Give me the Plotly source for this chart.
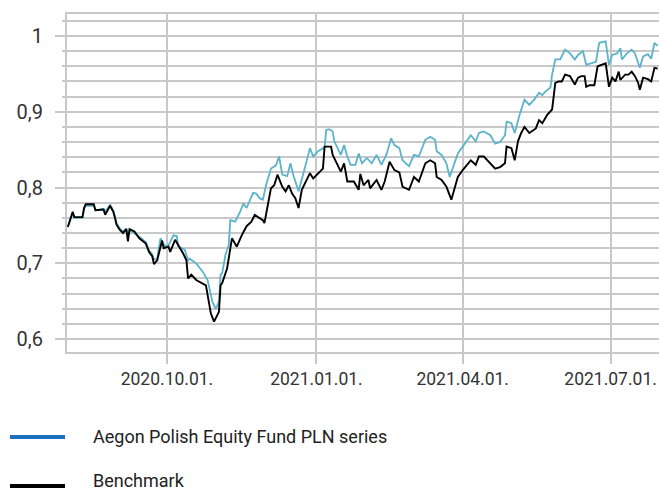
import plotly.graph_objects as go

fund_dates = [
    "2020-08-01", "2020-08-04", "2020-08-05", "2020-08-10", "2020-08-11", "2020-08-12", "2020-08-17",
    "2020-08-18", "2020-08-23", "2020-08-24", "2020-08-27", "2020-08-29", "2020-08-30", "2020-08-31",
    "2020-09-02", "2020-09-04", "2020-09-06", "2020-09-07", "2020-09-08", "2020-09-11", "2020-09-14",
    "2020-09-18", "2020-09-20", "2020-09-22", "2020-09-23", "2020-09-25", "2020-09-27", "2020-09-30",
    "2020-10-02", "2020-10-05", "2020-10-07", "2020-10-08", "2020-10-12", "2020-10-14", "2020-10-15",
    "2020-10-19", "2020-10-23", "2020-10-26", "2020-10-29", "2020-10-31", "2020-11-02", "2020-11-03",
    "2020-11-04", "2020-11-06", "2020-11-08", "2020-11-09", "2020-11-12", "2020-11-15", "2020-11-17",
    "2020-11-19", "2020-11-21", "2020-11-23", "2020-11-25", "2020-11-27", "2020-11-29", "2020-12-01",
    "2020-12-04", "2020-12-07", "2020-12-09", "2020-12-11", "2020-12-14", "2020-12-16", "2020-12-18",
    "2020-12-21", "2020-12-24", "2020-12-28", "2020-12-30", "2021-01-02", "2021-01-06", "2021-01-07",
    "2021-01-09", "2021-01-11", "2021-01-12", "2021-01-16", "2021-01-18", "2021-01-20", "2021-01-22",
    "2021-01-25", "2021-01-27", "2021-01-29", "2021-02-01", "2021-02-04", "2021-02-07", "2021-02-10",
    "2021-02-13", "2021-02-16", "2021-02-18", "2021-02-21", "2021-02-23", "2021-02-27", "2021-03-02",
    "2021-03-05", "2021-03-09", "2021-03-12", "2021-03-15", "2021-03-16", "2021-03-19", "2021-03-22",
    "2021-03-24", "2021-03-27", "2021-03-29", "2021-04-01", "2021-04-06", "2021-04-09", "2021-04-11",
    "2021-04-14", "2021-04-18", "2021-04-21", "2021-04-24", "2021-04-27", "2021-04-28", "2021-05-01",
    "2021-05-03", "2021-05-06", "2021-05-09", "2021-05-12", "2021-05-15", "2021-05-18", "2021-05-20",
    "2021-05-22", "2021-05-25", "2021-05-26", "2021-05-28", "2021-05-31", "2021-06-03", "2021-06-06",
    "2021-06-09", "2021-06-11", "2021-06-14", "2021-06-16", "2021-06-19", "2021-06-22", "2021-06-24",
    "2021-06-28", "2021-06-29", "2021-06-30", "2021-07-02", "2021-07-05", "2021-07-07", "2021-07-08",
    "2021-07-11", "2021-07-14", "2021-07-16", "2021-07-18", "2021-07-19", "2021-07-21", "2021-07-24",
    "2021-07-26", "2021-07-28", "2021-07-30",
]
fund_values = [
    0.748, 0.766, 0.760, 0.760, 0.772, 0.776, 0.776,
    0.770, 0.772, 0.768, 0.777, 0.770, 0.762, 0.753,
    0.746, 0.742, 0.746, 0.735, 0.744, 0.740, 0.735,
    0.728, 0.717, 0.712, 0.705, 0.706, 0.733, 0.722,
    0.724, 0.737, 0.736, 0.722, 0.718, 0.704, 0.706,
    0.700, 0.689, 0.678, 0.649, 0.640, 0.649, 0.685,
    0.687, 0.711, 0.724, 0.757, 0.755, 0.768, 0.779,
    0.773, 0.782, 0.793, 0.792, 0.786, 0.784, 0.803,
    0.825, 0.829, 0.841, 0.817, 0.815, 0.832, 0.815,
    0.795, 0.819, 0.852, 0.841, 0.848, 0.853, 0.876,
    0.877, 0.874, 0.861, 0.843, 0.856, 0.841, 0.830,
    0.830, 0.845, 0.832, 0.839, 0.832, 0.843, 0.830,
    0.843, 0.865, 0.856, 0.852, 0.836, 0.828, 0.843,
    0.841, 0.863, 0.867, 0.863, 0.848, 0.843, 0.832,
    0.814, 0.832, 0.845, 0.854, 0.869, 0.861, 0.872,
    0.874, 0.869, 0.858, 0.860, 0.869, 0.887, 0.885,
    0.872, 0.896, 0.916, 0.909, 0.916, 0.925, 0.922,
    0.927, 0.932, 0.949, 0.969, 0.969, 0.982, 0.977,
    0.969, 0.975, 0.980, 0.962, 0.964, 0.966, 0.991,
    0.993, 0.977, 0.962, 0.975, 0.977, 0.984, 0.969,
    0.977, 0.982, 0.977, 0.966, 0.958, 0.973, 0.976,
    0.970, 0.991, 0.987,
]

bench_dates = [
    "2020-08-01", "2020-08-04", "2020-08-05", "2020-08-10", "2020-08-11", "2020-08-12", "2020-08-17",
    "2020-08-18", "2020-08-23", "2020-08-24", "2020-08-27", "2020-08-29", "2020-08-30", "2020-08-31",
    "2020-09-02", "2020-09-04", "2020-09-06", "2020-09-07", "2020-09-08", "2020-09-11", "2020-09-14",
    "2020-09-18", "2020-09-20", "2020-09-22", "2020-09-23", "2020-09-25", "2020-09-28", "2020-09-29",
    "2020-10-02", "2020-10-03", "2020-10-06", "2020-10-08", "2020-10-11", "2020-10-13", "2020-10-14",
    "2020-10-16", "2020-10-19", "2020-10-25", "2020-10-28", "2020-10-30", "2020-11-02", "2020-11-03",
    "2020-11-04", "2020-11-07", "2020-11-09", "2020-11-10", "2020-11-13", "2020-11-16", "2020-11-19",
    "2020-11-22", "2020-11-24", "2020-11-29", "2020-11-30", "2020-12-02", "2020-12-04", "2020-12-06",
    "2020-12-08", "2020-12-11", "2020-12-13", "2020-12-15", "2020-12-17", "2020-12-19", "2020-12-21",
    "2020-12-23", "2020-12-26", "2020-12-28", "2020-12-30", "2021-01-03", "2021-01-05", "2021-01-06",
    "2021-01-10", "2021-01-11", "2021-01-13", "2021-01-16", "2021-01-18", "2021-01-20", "2021-01-24",
    "2021-01-27", "2021-01-28", "2021-01-30", "2021-02-02", "2021-02-03", "2021-02-07", "2021-02-10",
    "2021-02-12", "2021-02-15", "2021-02-18", "2021-02-21", "2021-02-23", "2021-02-27", "2021-03-02",
    "2021-03-05", "2021-03-09", "2021-03-12", "2021-03-15", "2021-03-16", "2021-03-19", "2021-03-22",
    "2021-03-25", "2021-03-27", "2021-03-29", "2021-04-01", "2021-04-06", "2021-04-09", "2021-04-11",
    "2021-04-14", "2021-04-18", "2021-04-21", "2021-04-24", "2021-04-27", "2021-04-28", "2021-05-01",
    "2021-05-03", "2021-05-05", "2021-05-07", "2021-05-09", "2021-05-12", "2021-05-16", "2021-05-18",
    "2021-05-20", "2021-05-23", "2021-05-26", "2021-05-28", "2021-05-30", "2021-06-01", "2021-06-03",
    "2021-06-06", "2021-06-09", "2021-06-11", "2021-06-13", "2021-06-15", "2021-06-16", "2021-06-18",
    "2021-06-21", "2021-06-23", "2021-06-28", "2021-06-30", "2021-07-02", "2021-07-04", "2021-07-06",
    "2021-07-07", "2021-07-10", "2021-07-12", "2021-07-14", "2021-07-16", "2021-07-18", "2021-07-19",
    "2021-07-21", "2021-07-24", "2021-07-26", "2021-07-28", "2021-07-30",
]
bench_values = [
    0.748, 0.768, 0.761, 0.761, 0.773, 0.778, 0.778,
    0.770, 0.771, 0.764, 0.776, 0.768, 0.760, 0.751,
    0.744, 0.740, 0.745, 0.729, 0.745, 0.742, 0.733,
    0.726, 0.715, 0.709, 0.699, 0.704, 0.730, 0.720,
    0.722, 0.715, 0.731, 0.724, 0.713, 0.704, 0.680,
    0.685, 0.678, 0.671, 0.634, 0.623, 0.636, 0.671,
    0.674, 0.693, 0.718, 0.733, 0.722, 0.737, 0.749,
    0.755, 0.764, 0.757, 0.753, 0.776, 0.799, 0.803,
    0.817, 0.801, 0.795, 0.803, 0.792, 0.786, 0.773,
    0.797, 0.810, 0.819, 0.812, 0.821, 0.825, 0.854,
    0.854, 0.843, 0.834, 0.821, 0.832, 0.808, 0.808,
    0.797, 0.818, 0.803, 0.810, 0.799, 0.810, 0.797,
    0.808, 0.834, 0.823, 0.820, 0.801, 0.797, 0.814,
    0.808, 0.832, 0.836, 0.832, 0.814, 0.810, 0.801,
    0.784, 0.801, 0.814, 0.823, 0.836, 0.830, 0.841,
    0.841, 0.832, 0.825, 0.827, 0.832, 0.854, 0.852,
    0.836, 0.861, 0.872, 0.880, 0.872, 0.878, 0.889,
    0.885, 0.896, 0.903, 0.938, 0.940, 0.940, 0.949,
    0.947, 0.936, 0.945, 0.947, 0.947, 0.933, 0.935,
    0.935, 0.960, 0.964, 0.933, 0.945, 0.940, 0.953,
    0.942, 0.949, 0.949, 0.953, 0.947, 0.938, 0.929,
    0.945, 0.943, 0.940, 0.958, 0.957,
]

series_names = ["Aegon Polish Equity Fund PLN series", "Benchmark"]
line_colors = ["#5bb3cc", "#000000"]
legend_colors = ["#1a72bf", "#000000"]
x_range = ["2020-07-31 12:00", "2021-07-30 19:00"]
y_range = [0.583, 1.029]

GRID = "#c8c8c8"
TEXT = "#333333"
FONT = "Roboto, Noto Sans, sans-serif"

fig = go.Figure()
fig.add_trace(go.Scatter(x=fund_dates, y=fund_values, mode="lines", name=series_names[0],
                         line=dict(color=line_colors[0], width=1.8), showlegend=False))
fig.add_trace(go.Scatter(x=bench_dates, y=bench_values, mode="lines", name=series_names[1],
                         line=dict(color=line_colors[1], width=1.9), showlegend=False))

L, R, T, B = 67, 0, 14, 139
W, H = 659, 491
pw, ph = W - L - R, H - T - B

def px_x(p):
    return (p - L) / pw

def px_y(p):
    return (H - B - p) / ph

legend_rows = [437, 486]
text_rows = [436, 480]
for name, col, row, trow in zip(series_names, legend_colors, legend_rows, text_rows):
    fig.add_shape(type="line", xref="paper", yref="paper",
                  x0=px_x(10), x1=px_x(65), y0=px_y(row), y1=px_y(row),
                  line=dict(color=col, width=4))
    fig.add_annotation(xref="paper", yref="paper", x=px_x(91), y=px_y(trow),
                       xanchor="left", yanchor="middle", showarrow=False,
                       text=name, font=dict(size=18, color="#222222", family=FONT))

fig.update_layout(
    width=W, height=H,
    margin=dict(l=L, r=R, t=T, b=B, autoexpand=False),
    plot_bgcolor="white", paper_bgcolor="white",
    separators=",.",
    font=dict(family=FONT, size=18, color=TEXT),
    showlegend=False,
)
fig.update_xaxes(
    range=x_range, type="date", automargin=False,
    tick0="2020-10-01", dtick="M3", tickformat="%Y.%m.%d.",
    showgrid=True, gridcolor=GRID, gridwidth=2,
    ticks="outside", ticklen=10, tickwidth=2, tickcolor=GRID,
    showline=True, linecolor=GRID, linewidth=2, mirror=True,
    tickfont=dict(size=17.5, color=TEXT), zeroline=False,
)
fig.update_yaxes(
    range=y_range, tick0=0, dtick=0.1, automargin=False,
    showgrid=True, gridcolor=GRID, gridwidth=2,
    ticks="outside", ticklen=10, tickwidth=2, tickcolor=GRID,
    minor=dict(dtick=0.02, showgrid=True, gridcolor=GRID, gridwidth=2,
               ticks="outside", ticklen=3, tickwidth=2, tickcolor=GRID),
    showline=True, linecolor=GRID, linewidth=2,
    ticklabelstandoff=8,
    tickfont=dict(size=20, color=TEXT), zeroline=False,
)

fig.write_html("out.html", config={"displayModeBar": False},
               post_script="document.body.style.margin='0';document.body.style.overflow='hidden';")
